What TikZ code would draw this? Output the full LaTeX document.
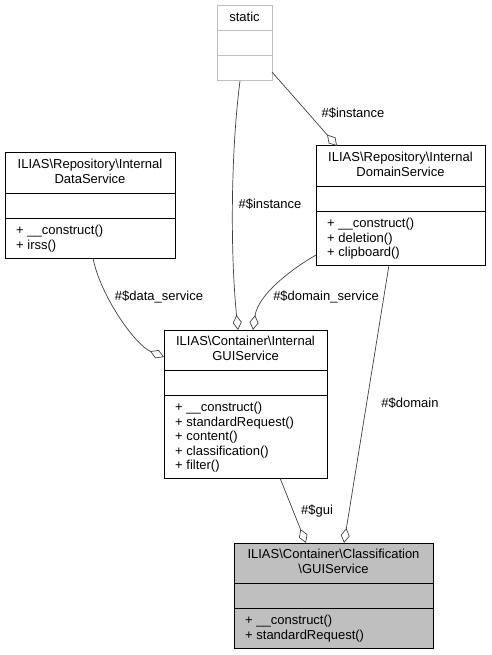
\documentclass[tikz,border=0pt]{standalone}
\usepackage{fontspec}
\setmainfont{Liberation Sans}
\usetikzlibrary{arrows.meta}

\definecolor{boxgray}{HTML}{BFBFBF}
\definecolor{edgegray}{HTML}{404040}
\newcommand\umlfont{\fontsize{13}{14.5}\selectfont}

\tikzset{
  cls/.style={draw=black, line width=1pt, inner sep=0pt, outer sep=0pt, anchor=north west},
  clstitle/.style={anchor=north, align=center, inner sep=0pt, font=\umlfont},
  clsmembers/.style={anchor=north west, align=left, inner sep=0pt, font=\umlfont},
  aggr/.style={draw=edgegray, line width=0.7pt,
    -{Diamond[open, length=15pt, width=9pt, line width=0.7pt]}},
  role/.style={inner sep=0pt, font=\umlfont}
}

% [style] name, top left, width, title height, methods height, title, methods
\newcommand\umlclass[8][]{%
  \node[cls, #1, minimum width=#4, minimum height=#5+#6+25pt] (#2) at (#3) {};
  \draw[line width=1pt, #1, fill=none] ([yshift=-#5]#2.north west) -- ([yshift=-#5]#2.north east);
  \draw[line width=1pt, #1, fill=none] ([yshift=-#5-25pt]#2.north west) -- ([yshift=-#5-25pt]#2.north east);
  \node[clstitle] (#2-t) at ([yshift=-6.1pt]#2.north) {#7};
  \node[clsmembers] (#2-m) at ([xshift=11pt, yshift=-#5-32.1pt]#2.north west) {#8};
}

\begin{document}
\begin{tikzpicture}[x=1pt, y=-1pt]
  \useasboundingbox (0,0) rectangle (491,655);

  \umlclass[draw=boxgray]{static}{217,6}{55pt}{25pt}{25pt}{static}{}
  \umlclass{data}{5,153}{170pt}{40pt}{40pt}
    {ILIAS\textbackslash Repository\textbackslash Internal\\DataService}
    {+ \_\_construct()\\+ irss()}
  \umlclass{domain}{316,146}{169pt}{40pt}{54pt}
    {ILIAS\textbackslash Repository\textbackslash Internal\\DomainService}
    {+ \_\_construct()\\+ deletion()\\+ clipboard()}
  \umlclass{gui}{164,330}{163pt}{40pt}{83pt}
    {ILIAS\textbackslash Container\textbackslash Internal\\GUIService}
    {+ \_\_construct()\\+ standardRequest()\\+ content()\\+ classification()\\+ filter()}
  \umlclass[fill=boxgray]{classgui}{234,543}{199pt}{40pt}{40pt}
    {ILIAS\textbackslash Container\textbackslash Classification\\\textbackslash GUIService}
    {+ \_\_construct()\\+ standardRequest()}

  % aggregations
  \draw[aggr] ([xshift=-4.5pt]static.south) .. controls (231,150) and (230,250) .. ([xshift=-7.5pt]gui.north);
  \draw[aggr] ([yshift=-28.5pt]static.east) -- ([xshift=-63.5pt]domain.north);
  \draw[aggr] ([xshift=3pt]data.south) .. controls (100,295) and (135,345) .. ([yshift=47pt]gui.west);
  \draw[aggr] ([yshift=-49.5pt]domain.west) .. controls (290,270) and (258,295) .. ([xshift=7.5pt]gui.north);
  \draw[aggr] ([xshift=34.5pt]gui.south) -- ([xshift=-27.5pt]classgui.north);
  \draw[aggr] ([xshift=-11.5pt]domain.south) -- ([xshift=10.5pt]classgui.north);

  % roles
  \node[role] (inst-gui) at (270,204) {\#\$instance};
  \node[role] (inst-domain) at (353,113) {\#\$instance};
  \node[role] (data-role) at (159,297) {\#\$data\_service};
  \node[role] (domain-role) at (326,297) {\#\$domain\_service};
  \node[role] (gui-role) at (317,511) {\#\$gui};
  \node[role] (domain-cls) at (410,403) {\#\$domain};
\end{tikzpicture}
\end{document}
